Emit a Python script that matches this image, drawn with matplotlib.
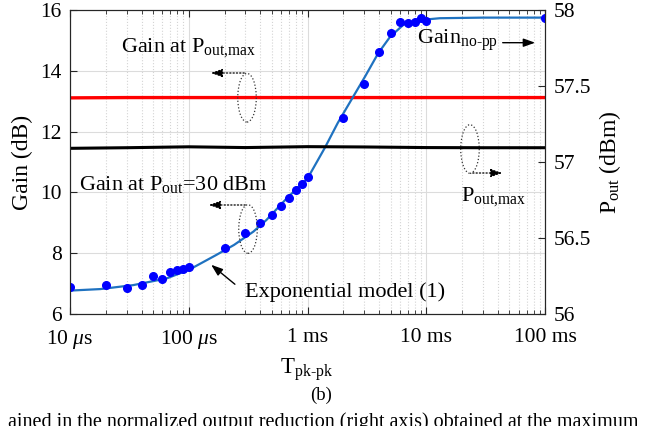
import numpy as np
import matplotlib
matplotlib.use("Agg")
from matplotlib import pyplot as plt
from matplotlib.patches import Ellipse

plt.rcParams['font.family'] = 'Liberation Serif'
plt.rcParams['mathtext.fontset'] = 'custom'
plt.rcParams['mathtext.rm'] = 'Liberation Serif'
plt.rcParams['mathtext.it'] = 'Liberation Serif:italic'

# measured gain at Pout = 30 dBm (T in seconds, gain in dB)
t_meas = [1e-5, 2e-5, 3e-5, 4e-5, 5e-5, 6e-5, 7e-5, 8e-5, 9e-5, 1e-4,
          2e-4, 3e-4, 4e-4, 5e-4, 6e-4, 7e-4, 8e-4, 9e-4, 1e-3,
          2e-3, 3e-3, 4e-3, 5e-3, 6e-3, 7e-3, 8e-3, 9e-3, 1e-2, 1e-1]
gain_meas = [6.88, 6.94, 6.84, 6.97, 7.25, 7.15, 7.39, 7.45, 7.48, 7.55,
             8.18, 8.68, 8.98, 9.25, 9.56, 9.80, 10.09, 10.28, 10.52,
             12.46, 13.55, 14.61, 15.23, 15.60, 15.56, 15.60, 15.73, 15.63, 15.73]

# exponential model (1)
t_model = [1e-5, 1.8e-5, 3.4e-5, 6.5e-5, 1e-4, 1.7e-4, 2.4e-4, 3.5e-4, 4.5e-4,
           6.7e-4, 1e-3, 1.4e-3, 1.8e-3, 2.4e-3, 3.05e-3, 3.94e-3, 4.96e-3,
           6.4e-3, 8.85e-3, 1.3e-2, 3e-2, 1e-1]
gain_model = [6.77, 6.82, 6.95, 7.17, 7.45, 7.94, 8.27, 8.71, 9.09,
              9.81, 10.46, 11.47, 12.29, 13.12, 13.81, 14.58, 15.12,
              15.51, 15.67, 15.73, 15.75, 15.75]

# gain at Pout,max (left axis) and Pout,max (right axis)
t_flat = [1e-5, 3e-5, 1e-4, 3e-4, 1e-3, 3e-3, 1e-2, 3e-2, 1e-1]
gain_pmax = [13.11, 13.12, 13.12, 13.12, 13.12, 13.12, 13.12, 13.12, 13.12]
pout_max = [57.090, 57.094, 57.100, 57.095, 57.101, 57.099, 57.095, 57.094, 57.094]

xticks = [1e-5, 1e-4, 1e-3, 1e-2, 1e-1]
xticklabels = ['10 $\\mu$s', '100 $\\mu$s', '1 ms', '10 ms', '100 ms']
yticks_left = [6, 8, 10, 12, 14, 16]
yticks_right = [56, 56.5, 57, 57.5, 58]
yticklabels_right = ['56', '56.5', '57', '57.5', '58']

fig = plt.figure(figsize=(6.46, 4.26), dpi=100)
ax = fig.add_axes([0.1084, 0.2629, 0.7353, 0.7136])
ax2 = ax.twinx()

ax.set_xscale('log')
ax.set_xlim(1e-5, 1e-1)
ax.set_ylim(6, 16)
ax2.set_ylim(56, 58)

ax.plot(t_flat, gain_pmax, color='red', lw=2.4)
ax.plot(t_model, gain_model, color='#1f72c0', lw=1.6, zorder=3)
ax.plot(t_meas, gain_meas, 'o', color='blue', ms=5.5, zorder=4)
ax2.plot(t_flat, pout_max, color='black', lw=2.2)

ax.grid(which='major', color='#dcdcdc', lw=0.8)
ax.grid(which='minor', axis='x', color='#d4d4d4', ls=':', lw=0.8)
ax.set_axisbelow(True)

ax.set_xticks(xticks)
ax.set_xticklabels(xticklabels)
ax.set_yticks(yticks_left)
ax2.set_yticks(yticks_right)
ax2.set_yticklabels(yticklabels_right)

ax.tick_params(which='both', direction='in', top=True, right=False,
               labelsize=15.5, colors='#262626', labelcolor='black')
ax.tick_params(axis='x', pad=10)
ax.tick_params(axis='y', pad=6)
ax.tick_params(which='major', length=5)
ax.tick_params(which='minor', length=3)
ax2.tick_params(direction='in', labelsize=15.5, length=5, colors='#262626',
                labelcolor='black', pad=6)
for a in (ax, ax2):
    for s in a.spines.values():
        s.set_color('#262626')
        s.set_linewidth(0.8)

fig.text(22/646, 1-162/426, 'Gain (dB)', rotation=90, ha='center', va='center', fontsize=17)
fig.text(610/646, 1-162/426, 'P$_{\\rm out}$ (dBm)', rotation=90, ha='center', va='center', fontsize=17)
fig.text(307/646, 1-370/426, 'T$_{\\rm pk\u2010pk}$', ha='center', va='center', fontsize=16.5)
fig.text(321/646, 1-395/426, '(b)', ha='center', va='center', fontsize=13.5)
fig.text(0.5, 1-412/426, 'ained in the normalized output reduction (right axis) obtained at the maximum',
         ha='center', va='top', fontsize=14.5)

# annotations (axes fraction)
tr = ax2.transAxes
for cx, cy in [(0.3726, 0.7115), (0.3747, 0.2796), (0.842, 0.5428)]:
    ax2.add_patch(Ellipse((cx, cy), 0.039, 0.160, transform=tr, fill=False,
                          ls=':', lw=0.9, color='#333333'))

dot_arrow = dict(arrowstyle='-|>,head_length=0.7,head_width=0.25', ls=':', lw=0.9, color='black')
ax2.annotate('', xy=(0.2905, 0.7928), xytext=(0.3726, 0.7928),
             xycoords=tr, textcoords=tr, arrowprops=dot_arrow)
ax2.annotate('', xy=(0.2863, 0.3586), xytext=(0.3747, 0.3586),
             xycoords=tr, textcoords=tr, arrowprops=dot_arrow)
ax2.annotate('', xy=(0.9158, 0.4638), xytext=(0.842, 0.4638),
             xycoords=tr, textcoords=tr, arrowprops=dot_arrow)

solid_arrow = dict(arrowstyle='-|>,head_length=0.7,head_width=0.25', lw=1.0, color='black')
ax2.annotate('', xy=(0.985, 0.8925), xytext=(0.905, 0.8925),
             xycoords=tr, textcoords=tr, arrowprops=solid_arrow)
ax2.annotate('', xy=(0.2926, 0.1678), xytext=(0.3516, 0.0921),
             xycoords=tr, textcoords=tr, arrowprops=solid_arrow)

ax2.text(0.107, 0.875, 'Gain at P$_{\\rm out{,}max}$', transform=tr, va='center', fontsize=16)
ax2.text(0.019, 0.4276, 'Gain at P$_{\\rm out}$=30 dBm', transform=tr, va='center', fontsize=16)
ax2.text(0.823, 0.385, 'P$_{\\rm out{,}max}$', transform=tr, va='center', fontsize=16)
ax2.text(0.7305, 0.901, 'Gain$_{\\rm no\u2010pp}$', transform=tr, va='center', fontsize=16)
ax2.text(0.368, 0.072, 'Exponential model (1)', transform=tr, va='center', fontsize=16)

fig.savefig('out.png', dpi=100)
